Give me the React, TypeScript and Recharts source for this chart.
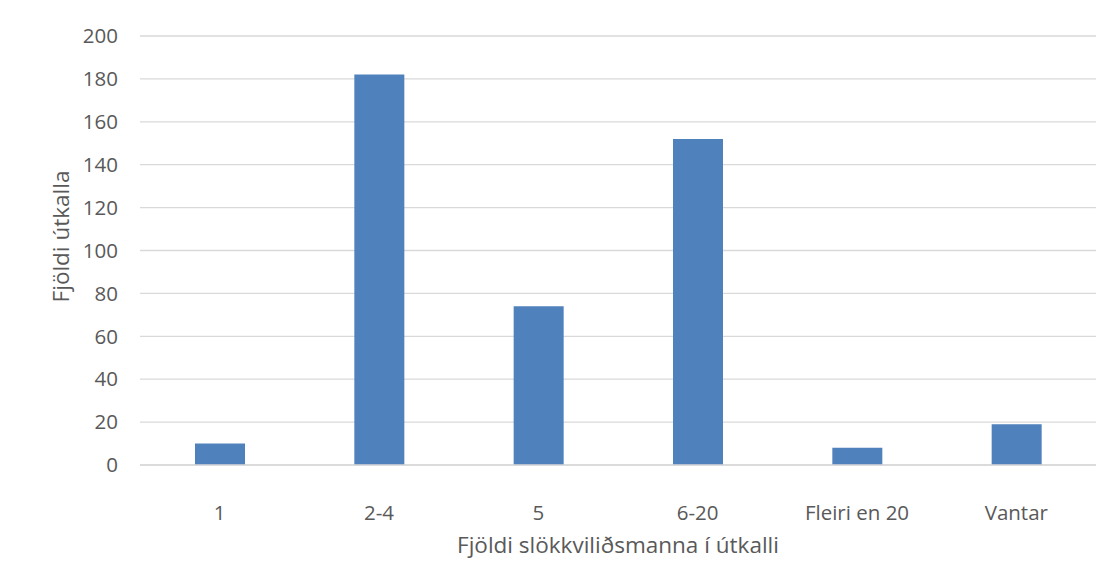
import { BarChart, Bar, XAxis, YAxis, CartesianGrid } from 'recharts';

const categories = ['1', '2-4', '5', '6-20', 'Fleiri en 20', 'Vantar'];
const counts = [10, 182, 74, 152, 8, 19];
const yTicks = [0, 20, 40, 60, 80, 100, 120, 140, 160, 180, 200];

const data = categories.map((name, i) => ({ name, count: counts[i] }));

const FONT = '"Open Sans", sans-serif';
const TEXT = '#595959';

function YTitle(props: any) {
  const vb = props.viewBox || { x: 0, y: 0, width: 0, height: 0 };
  const cx = 52;
  const cy = vb.y + vb.height / 2 - 14;
  return (
    <text
      x={cx}
      y={cy}
      textAnchor="middle"
      dominantBaseline="central"
      transform={`rotate(-90, ${cx}, ${cy})`}
      fill={TEXT}
      fontSize={22.5}
      fontFamily={FONT}
    >
      Fjöldi útkalla
    </text>
  );
}

function XTitle(props: any) {
  const vb = props.viewBox || { x: 0, y: 0, width: 0, height: 0 };
  return (
    <text
      x={vb.x + vb.width / 2}
      y={vb.y + 79}
      textAnchor="middle"
      dominantBaseline="central"
      fill={TEXT}
      fontSize={22.5}
      fontFamily={FONT}
    >
      Fjöldi slökkviliðsmanna í útkalli
    </text>
  );
}

export default function App() {
  return (
    <div
      style={{
        marginLeft: -1,
        marginTop: -1,
        width: 1104,
        height: 571,
        borderLeft: '1px solid #d0d0d0',
        borderTop: '1px solid #d0d0d0',
        background: '#fff',
      }}
    >
      <BarChart
        width={1104}
        height={571}
        data={data}
        margin={{ top: 28, right: 16, left: 0, bottom: 14 }}
      >
        <CartesianGrid vertical={false} stroke="#d9d9d9" strokeWidth={1.3} />
        <XAxis
          dataKey="name"
          height={100}
          axisLine={{ stroke: '#d9d9d9', strokeWidth: 1.3 }}
          tickLine={false}
          tickSize={0}
          tickMargin={32}
          tick={{ fill: TEXT, fontSize: 20.5, fontFamily: FONT, dominantBaseline: 'central' } as any}
          interval={0}
          label={<XTitle />}
        />
        <YAxis
          width={132}
          domain={[0, 200]}
          ticks={yTicks}
          axisLine={false}
          tickLine={false}
          tickSize={0}
          tickMargin={22}
          tick={{ fill: TEXT, fontSize: 20.5, fontFamily: FONT }}
          label={<YTitle />}
        />
        <Bar dataKey="count" fill="#4f81bd" barSize={50} isAnimationActive={false} />
      </BarChart>
    </div>
  );
}
